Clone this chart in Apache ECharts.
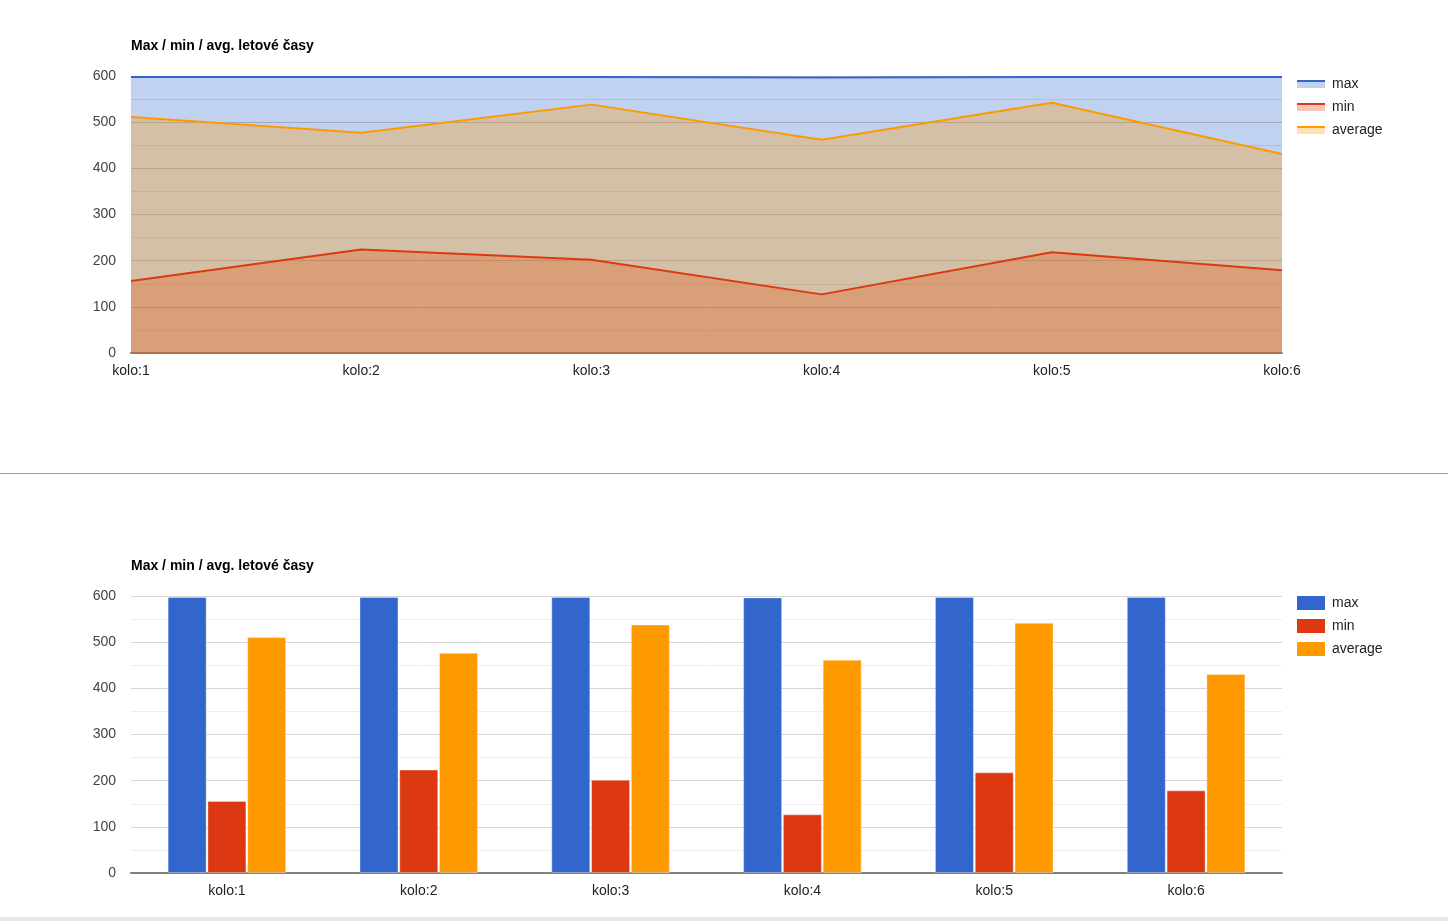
<!DOCTYPE html>
<html>
<head>
<meta charset="utf-8">
<script src="https://cdn.jsdelivr.net/npm/echarts@6/dist/echarts.min.js"></script>
<style>
  html, body { margin: 0; padding: 0; background: #fff; }
  #chart { width: 1448px; height: 917px; }
  #sep { position: absolute; left: 0; top: 473px; width: 1448px; height: 1px; background: #a0a0a0; }
  #foot { position: absolute; left: 0; top: 917px; width: 1448px; height: 4px; background: #ece6ea; }
</style>
</head>
<body>
<div id="chart"></div>
<div id="sep"></div>
<div id="foot"></div>
<script>
// hodnoty
const categories = ["kolo:1", "kolo:2", "kolo:3", "kolo:4", "kolo:5", "kolo:6"];
const maxTimes = [598, 598, 598, 597, 598, 598];
const minTimes = [156, 224, 202, 127, 218, 179];
const avgTimes = [511, 477, 538, 462, 542, 431];
const seriesNames = ["max", "min", "average"];
const colors = ["#3366cc", "#dc3912", "#ff9900"];
const lightColors = ["#c2d1f0", "#f5c4b8", "#ffe0b3"];
const titleText = "Max / min / avg. letové časy";

const chart = echarts.init(document.getElementById("chart"));
const font = "Arial, 'Liberation Sans', sans-serif";

const yAxisBase = (gridIndex) => ({
  type: "value",
  gridIndex: gridIndex,
  min: 0,
  max: 600,
  interval: 100,
  axisLine: { show: false },
  axisTick: { show: false },
  axisLabel: { color: "#444", fontSize: 14, fontFamily: font, margin: 15 },
  splitLine: { lineStyle: { color: gridIndex === 0 ? "#cdc4bb" : "#d6d6d6", width: 1 } },
  minorTick: { show: false, splitNumber: 2 },
  minorSplitLine: { show: true, lineStyle: { color: gridIndex === 0 ? "#e6e2de" : "#ededed", width: 1 } }
});

const legendBase = (top, h) => ({
  orient: "vertical",
  left: 1297,
  top: top,
  padding: 0,
  itemWidth: 28,
  itemHeight: h,
  itemGap: 23 - 14,
  icon: "rect",
  selectedMode: false,
  textStyle: { color: "#222", fontSize: 14, fontFamily: font, lineHeight: 14, padding: [0, 0, 0, 2] }
});

const stripe = (i) => new echarts.graphic.LinearGradient(0, 0, 0, 1, [
  { offset: 0, color: colors[i] },
  { offset: 0.28, color: colors[i] },
  { offset: 0.28, color: lightColors[i] },
  { offset: 1, color: lightColors[i] }
]);

const lineData = [maxTimes, minTimes, avgTimes];

const option = {
  animation: false,
  backgroundColor: "#fff",
  title: [
    { text: titleText, left: 126, top: 34, textStyle: { fontSize: 14, fontWeight: "bold", color: "#000", fontFamily: font } },
    { text: titleText, left: 126, top: 554, textStyle: { fontSize: 14, fontWeight: "bold", color: "#000", fontFamily: font } }
  ],
  legend: [
    Object.assign(legendBase(77, 8), {
      data: seriesNames.map((n, i) => ({ name: n, itemStyle: { color: stripe(i) } }))
    }),
    Object.assign(legendBase(596, 14), {
      itemGap: 9,
      data: seriesNames.map((n, i) => ({ name: n, itemStyle: { color: colors[i] } }))
    })
  ],
  grid: [
    { left: 131, right: 166, top: 76, height: 277 },
    { left: 131, right: 166, top: 596, height: 277 }
  ],
  xAxis: [
    {
      type: "category", gridIndex: 0, data: categories, boundaryGap: false,
      axisLine: { lineStyle: { color: "#808080", width: 2 } },
      axisTick: { show: false },
      axisLabel: { color: "#222", fontSize: 14, fontFamily: font, margin: 11 }
    },
    {
      type: "category", gridIndex: 1, data: categories, boundaryGap: true,
      axisLine: { lineStyle: { color: "#808080", width: 2 } },
      axisTick: { show: false },
      axisLabel: { color: "#222", fontSize: 14, fontFamily: font, margin: 11 }
    }
  ],
  yAxis: [yAxisBase(0), yAxisBase(1)],
  series: [
    // plochy (bez čar)
    ...seriesNames.map((n, i) => ({
      name: n,
      type: "line",
      xAxisIndex: 0,
      yAxisIndex: 0,
      data: lineData[i],
      symbol: "none",
      lineStyle: { width: 0 },
      itemStyle: { color: colors[i] },
      areaStyle: { color: colors[i], opacity: 0.3 },
      z: 2
    })),
    // čáry nad plochami
    ...seriesNames.map((n, i) => ({
      name: n,
      type: "line",
      xAxisIndex: 0,
      yAxisIndex: 0,
      data: lineData[i],
      symbol: "none",
      lineStyle: { color: colors[i], width: 2 },
      itemStyle: { color: colors[i] },
      z: 3
    })),
    ...seriesNames.map((n, i) => ({
      name: n,
      type: "bar",
      xAxisIndex: 1,
      yAxisIndex: 1,
      data: lineData[i],
      barWidth: 39,
      barGap: "2%",
      itemStyle: { color: colors[i], borderColor: "rgba(255,255,255,0.35)", borderWidth: 1 }
    }))
  ]
};
chart.setOption(option);
</script>
</body>
</html>
